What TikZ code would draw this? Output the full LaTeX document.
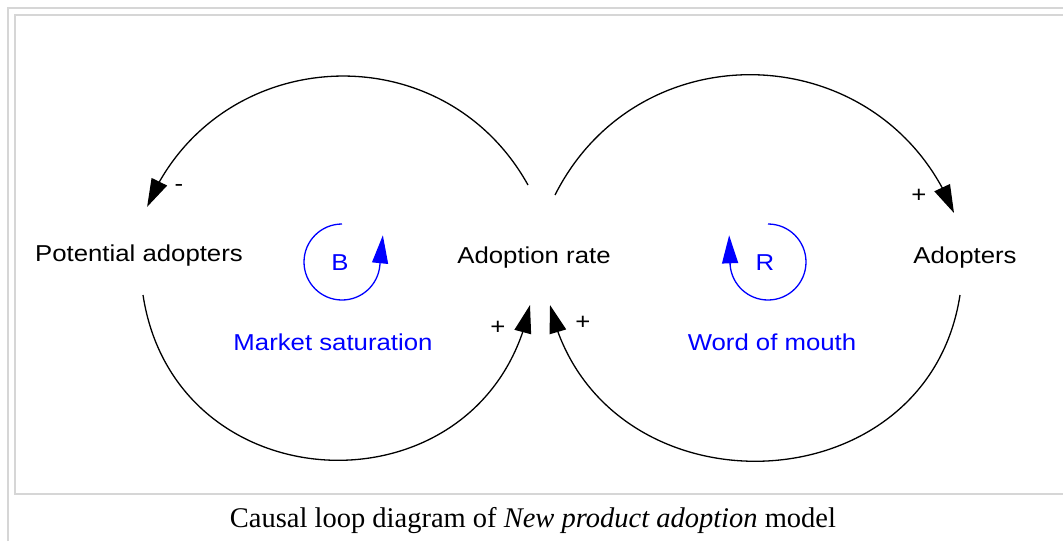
\documentclass[tikz,border=0pt]{standalone}
\usepackage{fontspec}
\setmainfont{Liberation Serif}
\newfontfamily\arialx[FakeStretch=1.12]{Liberation Sans}
\usetikzlibrary{arrows.meta,bending}
\definecolor{framegray}{RGB}{214,214,214}
\definecolor{loopblue}{RGB}{0,0,255}
\tikzset{
  lbl/.style={font=\arialx\fontsize{23}{28}\selectfont, inner sep=0pt, anchor=base},
  sgn/.style={font=\arialx\fontsize{23}{28}\selectfont, inner sep=0pt, anchor=center},
  conn/.style={line width=1.3pt, -{Triangle[length=28pt,width=17pt]}},
  loopline/.style={line width=1.3pt, draw=loopblue, -{Triangle[length=28pt,width=16pt]}},
  framel/.style={line width=1.5pt, draw=framegray},
}
\begin{document}
\begin{tikzpicture}[x=1pt,y=-1pt]
\useasboundingbox (0,0) rectangle (1063,541);
\fill[white] (0,0) rectangle (1063,541);
% frame
\draw[framel] (8,541) -- (8,8) -- (1063,8);
\draw[framel] (1063,494) -- (15,494) -- (15,15) -- (1063,15);
% nodes
\node[lbl] (pot) at (139,261) {Potential adopters};
\node[lbl] (rate) at (534,263) {Adoption rate};
\node[lbl] (adopt) at (965,263) {Adopters};
\node[sgn, text=loopblue] (B) at (340,263) {B};
\node[sgn, text=loopblue] (R) at (765,263) {R};
\node[lbl, text=loopblue] (ms) at (333,350) {Market saturation};
\node[lbl, text=loopblue] (wom) at (772,350) {Word of mouth};
\node[sgn] (m1) at (179,188) {-};
\node[sgn] (p1) at (919,196) {+};
\node[sgn] (p2) at (498,328) {+};
\node[sgn] (p3) at (583,323) {+};
% connectors
\draw[conn] ([shift={(-6,-78)}]rate.base) .. controls +(-86.2,-155) and +(67.9,-163.8) .. ([shift={(8.1,-54.1)}]pot.base);
\draw[conn] ([shift={(21,-68)}]rate.base) .. controls +(85.2,-168.7) and +(-69.9,-175.5) .. ([shift={(-11,-50)}]adopt.base);
\draw[conn] ([shift={(4,34)}]pot.base) .. controls +(32.8,214.5) and +(-43.2,212.8) .. ([shift={(-4,42)}]rate.base);
\draw[conn] ([shift={(-5,32)}]adopt.base) .. controls +(-33.1,216.4) and +(48.2,213.5) .. ([shift={(16,42)}]rate.base);
% loop markers
\draw[loopline] ([shift={(2,-39)}]B.center) arc[start angle=-90, end angle=-355, radius=38] -- ++(3,-30);
\draw[loopline] ([shift={(3,-39)}]R.center) arc[start angle=-90, end angle=175, radius=38] -- ++(-1,-30);
% caption
\node[inner sep=0pt, anchor=base, font=\fontsize{28.5}{34}\selectfont] (cap) at (533,527) {Causal loop diagram of \textit{New product adoption} model};
\end{tikzpicture}
\end{document}
